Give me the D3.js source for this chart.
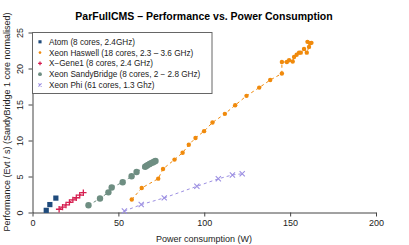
<!DOCTYPE html>
<html>
<head>
<meta charset="utf-8">
<script src="https://d3js.org/d3.v7.min.js"></script>
<style>
  body { margin: 0; background: #fff; }
  text { font-family: "Liberation Sans", Arial, sans-serif; }
</style>
</head>
<body>
<svg id="chart" width="409" height="245"></svg>
<script>
// values: [power W, performance]
var atom = [[8, 0.3], [10.1, 1.1], [13.6, 2.0]];
var haswell = [[57.8, 1.8], [63.6, 3.4], [73.2, 4.7], [76, 6.05], [82.7, 7.35], [87.4, 8.3],
  [91, 9.4], [94.9, 10.35], [99.9, 11.3], [104.8, 12.5], [112, 13.7], [118, 14.9],
  [124.6, 16.2], [132, 17.35], [138.4, 18.4], [145.2, 19.3], [145.2, 20.9], [148.1, 20.9],
  [149.4, 21.15], [151.5, 20.97], [152.3, 21.6], [153.8, 21.9], [155.2, 22.2], [156.2, 22.2],
  [158.1, 22.7], [159.7, 22.2], [161, 23.0], [161.6, 23.5], [160.1, 23.7], [162.4, 23.56]];
var xgene = [[15.5, 0.45], [17.5, 0.75], [19.5, 1.05], [21.5, 1.4], [23.5, 1.75],
  [25.5, 2.05], [27.5, 2.4], [29.6, 2.75]];
var sandy = [[32.6, 1.0], [39.3, 1.94], [44.2, 2.8], [46.1, 3.47], [52.5, 4.2], [57.7, 5.04],
  [60.6, 5.62], [65.6, 6.35], [66.5, 6.5], [67.3, 6.62], [68.2, 6.75], [69.1, 6.86],
  [70, 6.96], [70.8, 7.06], [71.6, 7.17]];
var phi = [[53.5, 0.2], [63.3, 1.1], [76.7, 2.03], [95.7, 3.64], [108.2, 4.68],
  [116.4, 5.22], [122.1, 5.38]];

var seriesNames = ["Atom (8 cores, 2.4GHz)", "Xeon Haswell (18 cores, 2.3 \u2013 3.6 GHz)",
  "X\u2212Gene1 (8 cores, 2.4 GHz)", "Xeon SandyBridge (8 cores, 2 \u2212 2.8 GHz)",
  "Xeon Phi (61 cores, 1.3 Ghz)"];
var seriesColors = ["#1f4b7c", "#f08a0c", "#d61f50", "#6e8e82", "#9c8fe2"];
var seriesShapes = ["square", "dot", "plus", "circle", "cross"];
var seriesData = [atom, haswell, xgene, sandy, phi];
var seriesLined = [false, true, true, true, true];

var xTicks = [0, 50, 100, 150, 200];
var yTicks = [0, 5, 10, 15, 20, 25];

var svg = d3.select("#chart");
var x = d3.scaleLinear().domain([0, 200]).range([32.5, 376]);
var y = d3.scaleLinear().domain([0, 25]).range([212.5, 32.5]);

// axes
svg.append("g")
  .attr("transform", "translate(0,212.5)")
  .call(d3.axisBottom(x).tickValues(xTicks).tickSize(4).tickSizeOuter(0).tickPadding(3))
  .call(function(g) {
    g.selectAll("path, line").attr("stroke", "#444");
    g.selectAll("text").attr("font-size", "9px").attr("fill", "#222");
  });

var yAxis = svg.append("g")
  .attr("transform", "translate(32.5,0)")
  .call(d3.axisLeft(y).tickValues(yTicks).tickSize(4).tickSizeOuter(0));
yAxis.selectAll("path, line").attr("stroke", "#444");
yAxis.selectAll("text")
  .attr("font-size", "9px").attr("fill", "#222")
  .attr("x", null).attr("dy", null)
  .attr("text-anchor", "middle")
  .attr("transform", "translate(-10,0) rotate(-90)")
  .attr("y", 0);

// titles
svg.append("text")
  .attr("x", 204).attr("y", 20)
  .attr("text-anchor", "middle")
  .attr("font-size", "10.5px").attr("font-weight", "bold")
  .text("ParFullCMS \u2013 Performance vs. Power Consumption");

svg.append("text")
  .attr("x", 204).attr("y", 242)
  .attr("text-anchor", "middle")
  .attr("font-size", "9px").attr("fill", "#222")
  .text("Power consumption (W)");

svg.append("text")
  .attr("transform", "translate(10,122) rotate(-90)")
  .attr("text-anchor", "middle")
  .attr("font-size", "9px").attr("fill", "#222")
  .text("Performance (Evt / s) (SandyBridge 1 core normalised)");

function drawMark(g, shape, color, cx, cy, s) {
  if (shape == "square") {
    g.append("rect").attr("x", cx - 2.6 * s).attr("y", cy - 2.6 * s)
      .attr("width", 5.2 * s).attr("height", 5.2 * s).attr("fill", color);
  } else if (shape == "dot") {
    g.append("circle").attr("cx", cx).attr("cy", cy).attr("r", 2.2 * s).attr("fill", color);
  } else if (shape == "circle") {
    g.append("circle").attr("cx", cx).attr("cy", cy).attr("r", 3.2 * s).attr("fill", color);
  } else if (shape == "plus") {
    var r = 3.2 * s;
    g.append("path").attr("d", "M" + (cx - r) + "," + cy + "H" + (cx + r) + "M" + cx + "," + (cy - r) + "V" + (cy + r))
      .attr("stroke", color).attr("stroke-width", 1.3).attr("fill", "none");
  } else if (shape == "cross") {
    var r2 = 2.6 * s;
    g.append("path").attr("d", "M" + (cx - r2) + "," + (cy - r2) + "L" + (cx + r2) + "," + (cy + r2) +
      "M" + (cx - r2) + "," + (cy + r2) + "L" + (cx + r2) + "," + (cy - r2))
      .attr("stroke", color).attr("stroke-width", 1.1).attr("fill", "none");
  }
}

var line = d3.line().x(function(d) { return x(d[0]); }).y(function(d) { return y(d[1]); });

seriesData.forEach(function(data, i) {
  var g = svg.append("g");
  if (seriesLined[i]) {
    g.append("path").datum(data)
      .attr("d", line)
      .attr("fill", "none")
      .attr("stroke", seriesColors[i])
      .attr("stroke-width", 1)
      .attr("stroke-dasharray", "3,3");
  }
  data.forEach(function(d) {
    drawMark(g, seriesShapes[i], seriesColors[i], x(d[0]), y(d[1]), 1);
  });
});

// legend
svg.append("rect")
  .attr("x", 32.5).attr("y", 32.5)
  .attr("width", 179.5).attr("height", 61)
  .attr("fill", "#fff").attr("stroke", "#666").attr("stroke-width", 1);

seriesNames.forEach(function(name, i) {
  var ly = 41.8 + i * 10.8;
  var g = svg.append("g");
  drawMark(g, seriesShapes[i], seriesColors[i], 40, ly, 0.6);
  g.append("text")
    .attr("x", 49).attr("y", ly + 3)
    .attr("font-size", "8.2px").attr("fill", "#222")
    .text(name);
});
</script>
</body>
</html>
